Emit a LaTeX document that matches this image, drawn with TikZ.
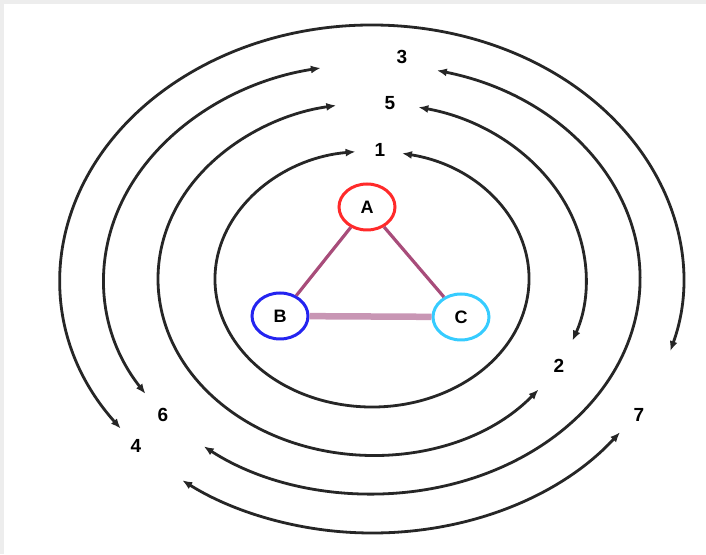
\documentclass[tikz,border=0pt]{standalone}
\usepackage{fontspec}
\setmainfont{Liberation Sans}
\usetikzlibrary{arrows.meta,shapes.geometric}
\definecolor{vred}{HTML}{FF2A2A}
\definecolor{vblue}{HTML}{2424F0}
\definecolor{vcyan}{HTML}{36CCFF}
\definecolor{edgedark}{HTML}{A84C7A}
\definecolor{edgelight}{HTML}{C896B4}

\begin{document}
\begin{tikzpicture}[x=1pt,y=1pt,>={Latex[length=10pt,width=8pt]},
  ring/.style={draw=black!85,line width=2.8pt,<->},
  vertex/.style={draw,ellipse,line width=3pt,minimum width=56pt,minimum height=46pt,inner sep=0pt,font=\fontsize{18}{19}\selectfont\bfseries},
  lbl/.style={font=\fontsize{19}{20}\selectfont\bfseries,inner sep=1pt}]
  % frame
  \fill[black!7] (0,0) rectangle (706,554);
  \fill[white] (4,0) rectangle (706,550);
  \useasboundingbox (0,0) rectangle (706,554);

  \coordinate (o) at (372,275);

  % triangle
  \node[vertex,draw=vred] (A) at (367,347) {A};
  \node[vertex,draw=vblue] (B) at (280,238) {B};
  \node[vertex,draw=vcyan] (C) at (461,237) {C};
  \draw[edgedark,line width=3.2pt] (A) -- (B);
  \draw[edgedark,line width=3.2pt] (A) -- (C);
  \draw[edgelight,line width=6.5pt] (B) -- (C);

  % walk labels
  \node[lbl] (w1) at (380,404) {1};
  \node[lbl] (w2) at (559,188) {2};
  \node[lbl] (w3) at (402,497) {3};
  \node[lbl] (w4) at (136,108) {4};
  \node[lbl] (w5) at (390,451) {5};
  \node[lbl] (w6) at (163,139) {6};
  \node[lbl] (w7) at (639,139) {7};

  % rings around the triangle
  \draw[ring,shift={(o)}] (79:157 and 128) arc[start angle=79,end angle=-264,x radius=157,y radius=128];
  \draw[ring,shift={(o)}] (77.5:214 and 176) arc[start angle=77.5,end angle=-20.5,x radius=214,y radius=176];
  \draw[ring,shift={(o)}] (-38.9:214 and 176) arc[start angle=-38.9,end angle=-260.4,x radius=214,y radius=176];
  \draw[ring,shift={(o)}] (76:268 and 215) arc[start angle=76,end angle=-128.9,x radius=268,y radius=215];
  \draw[ring,shift={(o)}] (212.3:268 and 215) arc[start angle=212.3,end angle=101,x radius=268,y radius=215];
  \draw[ring,shift={(o)}] (216.1:311 and 254) arc[start angle=216.1,end angle=-16.5,x radius=311,y radius=254];
  \draw[ring,shift={(o)}] (-37.1:311 and 254) arc[start angle=-37.1,end angle=-127.6,x radius=311,y radius=254];
\end{tikzpicture}
\end{document}
